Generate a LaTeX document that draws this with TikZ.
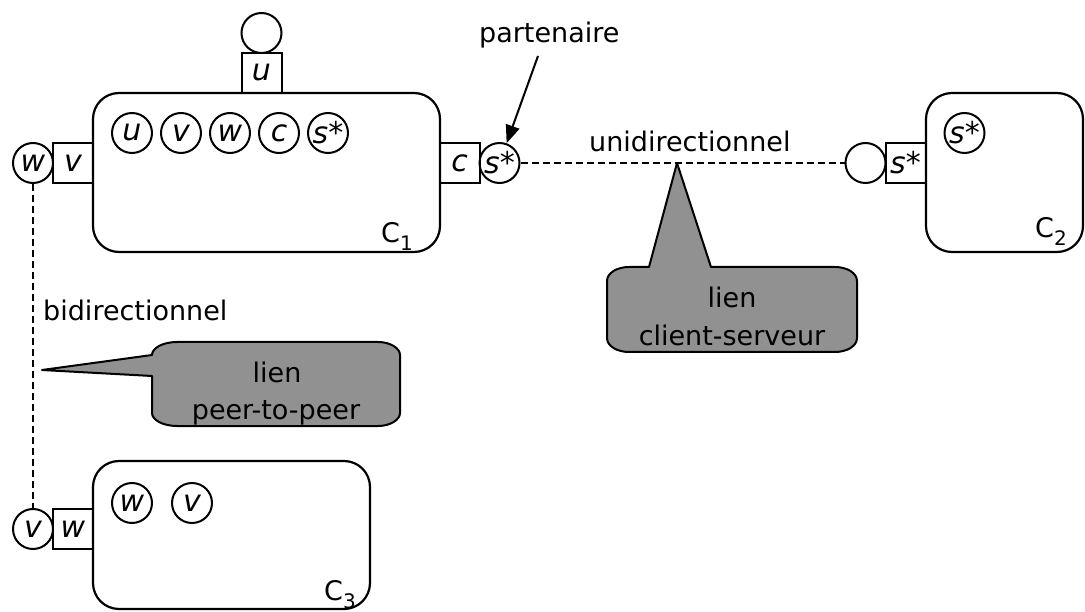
\documentclass[tikz,border=0pt]{standalone}
\usepackage{fontspec}
\setmainfont{DejaVu Sans}
\usetikzlibrary{arrows.meta}
\definecolor{callgray}{RGB}{145,145,145}
\newcommand{\csub}[1]{\raisebox{-8pt}{\fontsize{20}{20}\selectfont #1}}
\begin{document}
\begin{tikzpicture}[x=1pt,y=-1pt,
  every node/.style={font=\fontsize{27}{30}\selectfont},
  comp/.style={draw, rounded corners=26pt, line width=2.2pt, inner sep=0pt},
  port/.style={draw, line width=2pt, minimum width=40pt, minimum height=40pt, inner sep=0pt, font=\fontsize{30}{30}\selectfont\itshape},
  ball/.style={draw, circle, line width=2pt, minimum size=40pt, inner sep=0pt, font=\fontsize{30}{30}\selectfont\itshape},
  link/.style={line width=2.2pt, dash pattern=on 7pt off 4pt},
  callout/.style={draw, line width=2pt, fill=callgray, line join=round}
]
\useasboundingbox (0,0) rectangle (1085,612);

% components
\node[comp, minimum width=347pt, minimum height=159pt] (C1) at (266.5,172.5) {};
\node[comp, minimum width=157pt, minimum height=159pt] (C2) at (1004.5,172.5) {};
\node[comp, minimum width=277pt, minimum height=148pt] (C3) at (231.5,535) {};

% labels of components
\node[anchor=base west, inner sep=0pt] (lC1) at (381,243) {C\csub{1}};
\node[anchor=base west, inner sep=0pt] (lC2) at (1035,238) {C\csub{2}};
\node[anchor=base west, inner sep=0pt] (lC3) at (324,600) {C\csub{3}};

% inner circles C1
\node[ball] (iu) at (132,133) {u};
\node[ball] (iv) at (181,133) {v};
\node[ball] (iw) at (230,133) {w};
\node[ball] (ic) at (279,133) {c};
\node[ball] (is) at (328,133) {s*};
% inner circle C2
\node[ball] (is2) at (964.5,133) {s*};
% inner circles C3
\node[ball] (iw3) at (132,503) {w};
\node[ball] (iv3) at (192,503) {v};

% ports C1
\node[port] (pu) at (261.5,73) {u};
\node[ball] (ou) at (261.5,33) {};
\node[port] (pv) at (73,163) {v};
\node[ball] (ow) at (33,163) {w};
\node[port] (pc) at (459.5,163) {c};
\node[ball] (os) at (499.5,163) {s*};
% port C2
\node[port] (ps2) at (905.5,163) {s*};
\node[ball] (oc2) at (865.5,163) {};
% port C3
\node[port] (pw3) at (73,529) {w};
\node[ball] (ov3) at (33,529) {v};

% links
\draw[link] (os.east) -- (oc2.west);
\draw[link] (ow.south) -- (ov3.north);

% texts
\node[anchor=base west, inner sep=0pt] (tpart) at (479,43) {partenaire};
\node[anchor=base west, inner sep=0pt] (tuni) at (589,152) {unidirectionnel};
\node[anchor=base west, inner sep=0pt] (tbi) at (43,321) {bidirectionnel};

% partenaire arrow
\coordinate (pstart) at (538,56);
\draw[line width=2pt, -{Triangle[length=18pt,width=14pt]}] (pstart) -- (os);

% callout client-serveur
\coordinate (tipCS) at (677,163);
\draw[callout] (649,267) -- (tipCS) -- (711,267) -- (835,267)
  .. controls (847,267) and (857,273) .. (857,281) -- (857,338)
  .. controls (857,346) and (847,352) .. (835,352) -- (629,352)
  .. controls (617,352) and (607,346) .. (607,338) -- (607,281)
  .. controls (607,273) and (617,267) .. (629,267) -- cycle;
\node[anchor=base, inner sep=0pt] (csl1) at (732,308) {lien};
\node[anchor=base, inner sep=0pt] (csl2) at (732,346) {client-serveur};

% callout peer-to-peer
\coordinate (tipPP) at (42,370);
\draw[callout] (152,355)
  .. controls (152,348) and (163,342) .. (177,342) -- (378,342)
  .. controls (390,342) and (400,348) .. (400,355) -- (400,413)
  .. controls (400,420) and (390,426) .. (378,426) -- (177,426)
  .. controls (163,426) and (152,420) .. (152,413) -- (152,376)
  -- (tipPP) -- cycle;
\node[anchor=base, inner sep=0pt] (ppl1) at (277,383) {lien};
\node[anchor=base, inner sep=0pt] (ppl2) at (276,420) {peer-to-peer};
\end{tikzpicture}
\end{document}
